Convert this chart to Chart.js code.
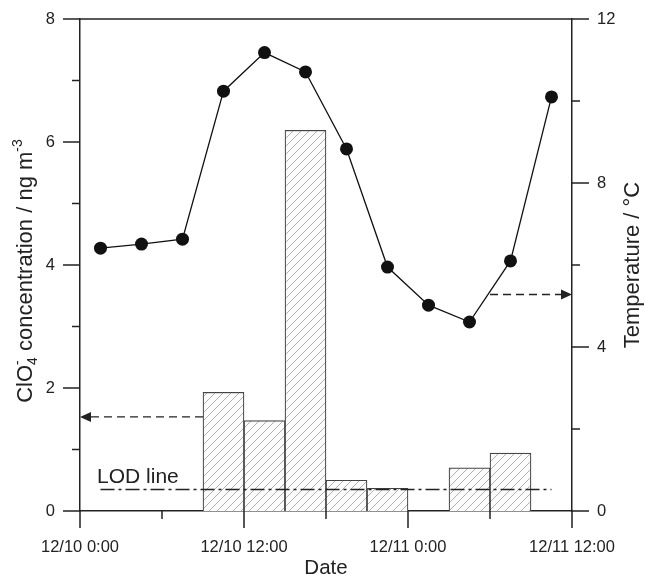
<!DOCTYPE html>
<html>
<head>
<meta charset="utf-8">
<script src="https://cdn.jsdelivr.net/npm/chart.js@4.4.1/dist/chart.umd.min.js"></script>
<style>
  html, body { margin: 0; padding: 0; background: #fff; }
  #wrap { width: 645px; height: 577px; }
</style>
</head>
<body>
<div id="wrap"><canvas id="chart" width="645" height="577"></canvas></div>
<script>
// Dati (ore dall'inizio del 12/10 0:00)
const barHours = [10.5, 13.5, 16.5, 19.5, 22.5, 28.5, 31.5];
const perchlorate = [1.93, 1.47, 6.19, 0.50, 0.37, 0.70, 0.94];
const tempHours = [1.5, 4.5, 7.5, 10.5, 13.5, 16.5, 19.5, 22.5, 25.5, 28.5, 31.5, 34.5];
const temperature = [6.41, 6.51, 6.63, 10.24, 11.18, 10.71, 8.83, 5.95, 5.02, 4.61, 6.10, 10.10];
const lodHours = [1.5, 34.5];
const lodValue = 0.35;

// Tick
const xTicks = [0, 12, 24, 36];
const xTickLabels = ['12/10 0:00', '12/10 12:00', '12/11 0:00', '12/11 12:00'];
const xMinor = [6, 18, 30];
const yTicks = [0, 2, 4, 6, 8];
const yMinor = [1, 3, 5, 7];
const y2Ticks = [0, 4, 8, 12];
const y2Minor = [2, 6, 10];

// Annotazioni (coordinate nei dati)
const lodLabel = { text: 'LOD line', x: 1.25, y: 0.46 };
const leftArrow = { from: 9, to: 0, y: 1.53 };
const rightArrow = { from: 30, to: 36, y: 5.28 };

const FONT = '"Liberation Sans", Arial, sans-serif';
const INK = '#222';
const TICK_LEN = 17;

const canvas = document.getElementById('chart');
const ctx = canvas.getContext('2d');

// Tratteggio diagonale delle barre
function makeHatch() {
    const c = document.createElement('canvas');
    c.width = 8;
    c.height = 8;
    const g = c.getContext('2d');
    g.fillStyle = '#fbfbfb';
    g.fillRect(0, 0, 8, 8);
    g.strokeStyle = '#a8a8a8';
    g.lineWidth = 0.9;
    g.beginPath();
    g.moveTo(0, 8); g.lineTo(8, 0);
    g.moveTo(-1, 1); g.lineTo(1, -1);
    g.moveTo(7, 9); g.lineTo(9, 7);
    g.stroke();
    return ctx.createPattern(c, 'repeat');
}

function drawArrow(c, x1, x2, y) {
    const dir = Math.sign(x2 - x1);
    const head = 11;
    c.save();
    c.setLineDash([8, 5]);
    c.lineWidth = 1.3;
    c.beginPath();
    c.moveTo(x1, y);
    c.lineTo(x2 - dir * head, y);
    c.stroke();
    c.setLineDash([]);
    c.beginPath();
    c.moveTo(x2, y);
    c.lineTo(x2 - dir * head, y - 5);
    c.lineTo(x2 - dir * head, y + 5);
    c.closePath();
    c.fill();
    c.restore();
}

const decorations = {
    id: 'decorations',
    afterDatasetsDraw(chart) {
        const { ctx: c, scales: { x, y, y2 } } = chart;
        c.save();
        c.strokeStyle = INK;
        c.fillStyle = INK;
        drawArrow(c, x.getPixelForValue(leftArrow.from), x.getPixelForValue(leftArrow.to), y.getPixelForValue(leftArrow.y));
        drawArrow(c, x.getPixelForValue(rightArrow.from), x.getPixelForValue(rightArrow.to), y2.getPixelForValue(rightArrow.y));

        c.font = '21px ' + FONT;
        c.textAlign = 'left';
        c.textBaseline = 'alphabetic';
        c.fillText(lodLabel.text, x.getPixelForValue(lodLabel.x), y.getPixelForValue(lodLabel.y));
        c.restore();
    },
    afterDraw(chart) {
        const { ctx: c, chartArea: a, scales: { x, y, y2 } } = chart;
        c.save();
        c.strokeStyle = INK;
        c.lineWidth = 1.5;
        c.beginPath();
        // bordo superiore
        c.moveTo(a.left, a.top);
        c.lineTo(a.right, a.top);
        // tick maggiori e minori
        const major = TICK_LEN, minor = 8;
        yTicks.forEach(v => { const p = y.getPixelForValue(v); c.moveTo(a.left, p); c.lineTo(a.left - major, p); });
        yMinor.forEach(v => { const p = y.getPixelForValue(v); c.moveTo(a.left, p); c.lineTo(a.left - minor, p); });
        y2Ticks.forEach(v => { const p = y2.getPixelForValue(v); c.moveTo(a.right, p); c.lineTo(a.right + major, p); });
        y2Minor.forEach(v => { const p = y2.getPixelForValue(v); c.moveTo(a.right, p); c.lineTo(a.right + minor, p); });
        xTicks.forEach(v => { const p = x.getPixelForValue(v); c.moveTo(p, a.bottom); c.lineTo(p, a.bottom + major); });
        xMinor.forEach(v => { const p = x.getPixelForValue(v); c.moveTo(p, a.bottom); c.lineTo(p, a.bottom + minor); });
        c.stroke();

        // titolo asse sinistro con pedici/apici
        c.fillStyle = INK;
        c.textBaseline = 'alphabetic';
        c.textAlign = 'left';
        const big = '22px ' + FONT, small = '14px ' + FONT;
        const parts = [
            { t: 'ClO', f: big, dy: 0 },
            { t: '4', f: small, dy: 5, stack: true },
            { t: '-', f: small, dy: -10 },
            { t: ' concentration / ng m', f: big, dy: 0 },
            { t: '-3', f: small, dy: -10 }
        ];
        parts.forEach(p => { c.font = p.f; p.w = c.measureText(p.t).width; });
        parts[2].w = Math.max(parts[2].w, parts[1].w);
        const total = parts.reduce((s, p) => s + (p.stack ? 0 : p.w), 0);
        c.translate(32, (a.top + a.bottom) / 2 + 6);
        c.rotate(-Math.PI / 2);
        let cx = -total / 2;
        parts.forEach(p => {
            c.font = p.f;
            c.fillText(p.t, cx, p.dy);
            if (!p.stack) cx += p.w;
        });
        c.restore();

        // titolo asse destro
        c.save();
        c.fillStyle = INK;
        c.font = '22px ' + FONT;
        c.textAlign = 'center';
        c.textBaseline = 'alphabetic';
        c.translate(639, (a.top + a.bottom) / 2);
        c.rotate(-Math.PI / 2);
        c.fillText('Temperature / °C', 0, 0);
        c.restore();
    }
};

const tickFont = { family: FONT, size: 16.5 };
// i segni di graduazione li disegna il plugin, qui servono solo per lo spazio
const hiddenGrid = { display: false, drawTicks: true, tickLength: TICK_LEN };

new Chart(ctx, {
    type: 'bar',
    data: {
        datasets: [
            {
                type: 'line',
                label: 'Temperature',
                data: tempHours.map((h, i) => ({ x: h, y: temperature[i] })),
                yAxisID: 'y2',
                borderColor: '#111',
                borderWidth: 1.3,
                pointRadius: 6.5,
                pointBackgroundColor: '#111',
                pointBorderColor: '#111',
                pointBorderWidth: 0,
                tension: 0,
                order: 1
            },
            {
                type: 'line',
                label: 'LOD',
                data: lodHours.map(h => ({ x: h, y: lodValue })),
                yAxisID: 'y',
                borderColor: '#222',
                borderWidth: 1.3,
                borderDash: [14, 4, 3, 4],
                pointRadius: 0,
                order: 2
            },
            {
                type: 'bar',
                label: 'ClO4-',
                data: barHours.map((h, i) => ({ x: h, y: perchlorate[i] })),
                yAxisID: 'y',
                backgroundColor: makeHatch(),
                borderColor: '#444',
                borderWidth: 1.2,
                barPercentage: 1,
                categoryPercentage: 1,
                order: 3
            }
        ]
    },
    options: {
        responsive: false,
        animation: false,
        layout: { autoPadding: false, padding: { top: 19, left: 0, right: 0, bottom: 0 } },
        plugins: {
            legend: { display: false },
            tooltip: { enabled: false }
        },
        scales: {
            x: {
                type: 'linear',
                position: 'bottom',
                min: 0,
                max: 36,
                offset: false,
                afterFit: s => { s.height = 66; },
                grid: hiddenGrid,
                border: { display: true, color: INK, width: 1.5 },
                ticks: {
                    stepSize: 12,
                    padding: 10,
                    color: INK,
                    font: tickFont,
                    maxRotation: 0,
                    callback: v => xTickLabels[xTicks.indexOf(v)] ?? ''
                },
                title: {
                    display: true,
                    text: 'Date',
                    color: INK,
                    font: { family: FONT, size: 20.5, lineHeight: 1 },
                    padding: { top: 0, bottom: -1.5 }
                }
            },
            y: {
                position: 'left',
                min: 0,
                max: 8,
                afterFit: s => { s.width = 80; },
                grid: hiddenGrid,
                border: { display: true, color: INK, width: 1.5 },
                ticks: { stepSize: 2, padding: 8, color: INK, font: tickFont }
            },
            y2: {
                position: 'right',
                min: 0,
                max: 12,
                afterFit: s => { s.width = 73; },
                grid: hiddenGrid,
                border: { display: true, color: INK, width: 1.5 },
                ticks: { stepSize: 4, padding: 8, color: INK, font: tickFont }
            }
        }
    },
    plugins: [decorations]
});
</script>
</body>
</html>
